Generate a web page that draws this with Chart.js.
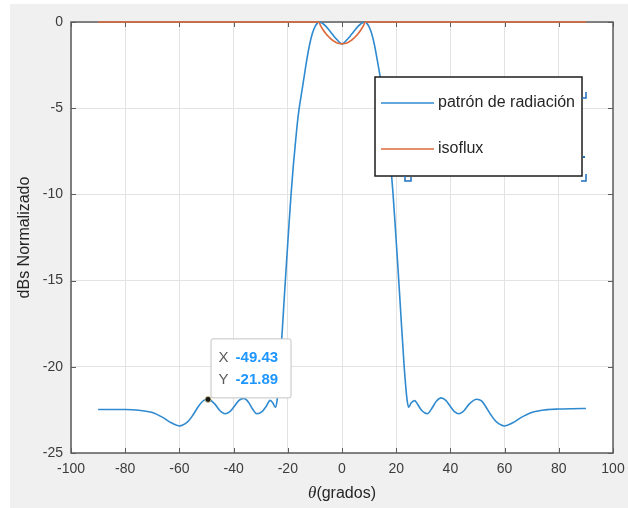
<!DOCTYPE html>
<html lang="es">
<head>
<meta charset="UTF-8">
<title>Patrón de radiación</title>
<script src="https://cdn.jsdelivr.net/npm/chart.js"></script>
<style>
  html, body { margin: 0; padding: 0; background: #fff; }
</style>
</head>
<body>
<canvas id="grafica" width="628" height="508"></canvas>
<script>
// ángulos (grados) y nivel normalizado (dB) del patrón de radiación
const THETA = [
  -90, -85, -80, -75, -70, -66, -63, -60, -57, -55, -53, -51, -49.43, -47, -45, -43.2, -41.5, -40,
  -38, -36.3, -34.5, -33, -31.5, -29.5, -28, -26.5, -25.5, -24.6, -24, -23.5, -22.9, -22.5, -22,
  -21.5, -20.9, -20.5, -20, -19.5, -18.8, -18, -17, -16.5, -15.8, -15, -14, -13, -12, -11, -10,
  -9, -8.4, -7, -6, -5, -4, -3, -2, -1, 0,
  1, 2, 3, 4, 5, 6, 7, 8.4, 9, 10, 11, 12, 13, 14, 15, 15.8, 16.5, 17, 18, 18.8, 19.5, 20,
  20.5, 20.9, 21.5, 22, 22.5, 22.9, 23.5, 24, 24.6, 25.5, 26.8, 28, 29.5, 31.5, 33, 34.8, 36.6,
  38.3, 40, 41.5, 43.2, 45, 47, 49.7, 51.5, 53, 55, 57, 60, 63, 66, 70, 75, 80, 85, 90
];
const PATRON = [
  -22.48, -22.48, -22.48, -22.52, -22.65, -22.95, -23.25, -23.43, -23.2, -22.8, -22.3, -21.95, -21.89, -22.15, -22.55, -22.72, -22.62, -22.35,
  -21.95, -21.83, -22.05, -22.45, -22.72, -22.6, -22.3, -21.95, -22.1, -22.35, -22.0, -21.2, -20.0, -19.0, -17.8,
  -16.5, -15.0, -14.0, -12.8, -11.6, -10.0, -8.4, -6.7, -5.9, -5.0, -4.2, -3.2, -2.2, -1.35, -0.7, -0.28,
  -0.05, 0, -0.1, -0.24, -0.42, -0.62, -0.82, -1.0, -1.17, -1.27,
  -1.17, -1.0, -0.82, -0.62, -0.42, -0.24, -0.1, 0, -0.05, -0.28, -0.7, -1.35, -2.2, -3.1, -4.1, -5.0, -5.9, -6.6, -8.3, -9.9, -11.5, -12.7,
  -13.9, -14.9, -16.4, -17.7, -18.9, -19.9, -21.1, -21.9, -22.35, -22.1, -21.96, -22.2, -22.55, -22.72, -22.45, -22.0, -21.8,
  -21.95, -22.3, -22.6, -22.72, -22.55, -22.15, -21.88, -21.98, -22.3, -22.8, -23.2, -23.43, -23.25, -22.95, -22.65, -22.5, -22.45, -22.43, -22.42
];

// curva isoflux
const ISO_THETA = [-90, -8.5, -8, -7, -6, -5, -4, -3, -2, -1, 0, 1, 2, 3, 4, 5, 6, 7, 8, 8.5, 90];
const ISO_DB = [0, 0, -0.18, -0.45, -0.66, -0.84, -0.99, -1.11, -1.2, -1.25, -1.27, -1.25, -1.2, -1.11, -0.99, -0.84, -0.66, -0.45, -0.18, 0, 0];

// marcas de los ejes
const X_TICKS = [-100, -80, -60, -40, -20, 0, 20, 40, 60, 80, 100];
const Y_TICKS = [-25, -20, -15, -10, -5, 0];

// punto señalado con el datatip
const TIP_X = -49.43;
const TIP_Y = -21.89;

const LEYENDA = ['patrón de radiación', 'isoflux'];
const AZUL = '#2f8ad0';
const NARANJA = '#dd6a3b';
const FUENTE = '"Liberation Sans", Arial, sans-serif';

const toPoints = (xs, ys) => xs.map((v, i) => ({ x: v, y: ys[i] }));

const marco = {
  id: 'marco',
  beforeDraw(chart) {
    const { ctx, chartArea: a } = chart;
    ctx.save();
    ctx.fillStyle = '#ffffff';
    ctx.fillRect(0, 0, chart.width, chart.height);
    ctx.fillStyle = '#f0f0f0';
    ctx.fillRect(10, 4, chart.width - 10, chart.height - 4);
    ctx.fillStyle = '#ffffff';
    ctx.fillRect(a.left, a.top, a.right - a.left, a.bottom - a.top);
    ctx.restore();
  },
  beforeDatasetsDraw(chart) {
    // caja de ejes con marcas hacia adentro
    const { ctx, chartArea: a, scales: { x, y } } = chart;
    ctx.save();
    ctx.strokeStyle = '#5c5c5c';
    ctx.lineWidth = 1;
    ctx.beginPath();
    X_TICKS.forEach(v => {
      const px = Math.round(x.getPixelForValue(v)) + 0.5;
      ctx.moveTo(px, a.bottom); ctx.lineTo(px, a.bottom - 5);
      ctx.moveTo(px, a.top); ctx.lineTo(px, a.top + 5);
    });
    Y_TICKS.forEach(v => {
      const py = Math.round(y.getPixelForValue(v)) + 0.5;
      ctx.moveTo(a.left, py); ctx.lineTo(a.left + 5, py);
      ctx.moveTo(a.right, py); ctx.lineTo(a.right - 5, py);
    });
    ctx.stroke();
    ctx.lineWidth = 1.5;
    ctx.strokeRect(a.left, a.top, a.right - a.left, a.bottom - a.top);
    ctx.restore();
  },
  afterDatasetsDraw(chart) {
    const { ctx, chartArea: a, scales: { x, y } } = chart;
    ctx.save();

    // leyenda
    const lx = 375, ly = 77, lw = 207, lh = 99;
    ctx.fillStyle = '#ffffff';
    ctx.fillRect(lx, ly, lw, lh);
    ctx.strokeStyle = '#1c1c1c';
    ctx.lineWidth = 1.5;
    ctx.strokeRect(lx, ly, lw, lh);
    [AZUL, NARANJA].forEach((c, i) => {
      const yy = ly + 26 + i * 46;
      ctx.strokeStyle = c;
      ctx.lineWidth = 1.6;
      ctx.beginPath();
      ctx.moveTo(lx + 6, yy); ctx.lineTo(lx + 59, yy);
      ctx.stroke();
      ctx.fillStyle = '#262626';
      ctx.font = '16px ' + FUENTE;
      ctx.textBaseline = 'middle';
      ctx.textAlign = 'left';
      ctx.fillText(LEYENDA[i], lx + 63, yy);
    });

    // asas de selección de la leyenda
    ctx.strokeStyle = '#1f6fbd';
    ctx.lineWidth = 1.5;
    ctx.beginPath();
    ctx.moveTo(586, 92); ctx.lineTo(586, 98); ctx.lineTo(582, 98);
    ctx.moveTo(586, 174); ctx.lineTo(586, 181); ctx.lineTo(581, 181);
    ctx.moveTo(405, 176); ctx.lineTo(405, 181); ctx.lineTo(411, 181); ctx.lineTo(411, 177);
    ctx.stroke();
    ctx.fillStyle = '#1f6fbd';
    ctx.fillRect(583, 156, 2, 2);

    // datatip
    const px = x.getPixelForValue(TIP_X);
    const py = y.getPixelForValue(TIP_Y);
    const bx = px + 2.5, by = py - 61, bw = 80, bh = 59;
    ctx.fillStyle = '#ffffff';
    ctx.strokeStyle = '#c4c4c4';
    ctx.lineWidth = 1;
    ctx.beginPath();
    ctx.roundRect(bx + 0.5, by + 0.5, bw, bh, 2);
    ctx.fill();
    ctx.stroke();
    ctx.textBaseline = 'middle';
    ctx.textAlign = 'left';
    ctx.fillStyle = '#5a5a5a';
    ctx.font = '15px ' + FUENTE;
    ctx.fillText('X', bx + 8, by + 19);
    ctx.fillText('Y', bx + 8, by + 41);
    ctx.fillStyle = '#1e96ff';
    ctx.font = 'bold 15px ' + FUENTE;
    ctx.fillText(TIP_X.toFixed(2), bx + 25, by + 19);
    ctx.fillText(TIP_Y.toFixed(2), bx + 25, by + 41);
    ctx.beginPath();
    ctx.arc(px, py, 3, 0, Math.PI * 2);
    ctx.fillStyle = '#1a1a1a';
    ctx.fill();
    ctx.strokeStyle = '#d8c98a';
    ctx.lineWidth = 0.8;
    ctx.stroke();

    // título del eje x: θ en cursiva
    const cx = (a.left + a.right) / 2;
    const ty = 494;
    ctx.fillStyle = '#262626';
    ctx.font = '16px ' + FUENTE;
    const resto = '(grados)';
    const wr = ctx.measureText(resto).width;
    ctx.font = 'italic 17px "Liberation Serif", "Times New Roman", serif';
    const wt = ctx.measureText('θ').width;
    const x0 = cx - (wr + wt) / 2;
    ctx.fillText('θ', x0, ty);
    ctx.font = '16px ' + FUENTE;
    ctx.fillText(resto, x0 + wt, ty);
    ctx.restore();
  }
};

const ctx = document.getElementById('grafica').getContext('2d');
const grafica = new Chart(ctx, {
  type: 'line',
  data: {
    datasets: [
      {
        label: LEYENDA[0],
        data: toPoints(THETA, PATRON),
        borderColor: AZUL,
        borderWidth: 1.6,
        pointRadius: 0,
        cubicInterpolationMode: 'monotone',
        clip: 3,
        order: 1
      },
      {
        label: LEYENDA[1],
        data: toPoints(ISO_THETA, ISO_DB),
        borderColor: NARANJA,
        borderWidth: 1.6,
        pointRadius: 0,
        cubicInterpolationMode: 'monotone',
        clip: 3,
        order: 0
      }
    ]
  },
  options: {
    responsive: false,
    animation: false,
    devicePixelRatio: 1,
    layout: { padding: { left: 10, top: 22, right: 15, bottom: 0 } },
    plugins: { legend: { display: false }, tooltip: { enabled: false } },
    scales: {
      x: {
        type: 'linear',
        min: -100,
        max: 100,
        afterBuildTicks: s => { s.ticks = X_TICKS.map(v => ({ value: v })); },
        afterFit: s => { s.height = 55; s.paddingLeft = 0; s.paddingRight = 0; },
        grid: { color: '#e3e3e3', drawTicks: false },
        border: { display: false },
        ticks: { padding: 8, maxRotation: 0, color: '#3c3c3c', font: { family: FUENTE, size: 14 } }
      },
      y: {
        min: -25,
        max: 0,
        afterBuildTicks: s => { s.ticks = Y_TICKS.map(v => ({ value: v })); },
        afterFit: s => { s.width = 61; s.paddingTop = 0; s.paddingBottom = 0; },
        grid: { color: '#e3e3e3', drawTicks: false },
        border: { display: false },
        ticks: { padding: 8, color: '#3c3c3c', font: { family: FUENTE, size: 14 } },
        title: {
          display: true,
          text: 'dBs Normalizado',
          color: '#262626',
          font: { family: FUENTE, size: 16 },
          padding: { top: 5, bottom: 0 }
        }
      }
    }
  },
  plugins: [marco]
});
</script>
</body>
</html>
